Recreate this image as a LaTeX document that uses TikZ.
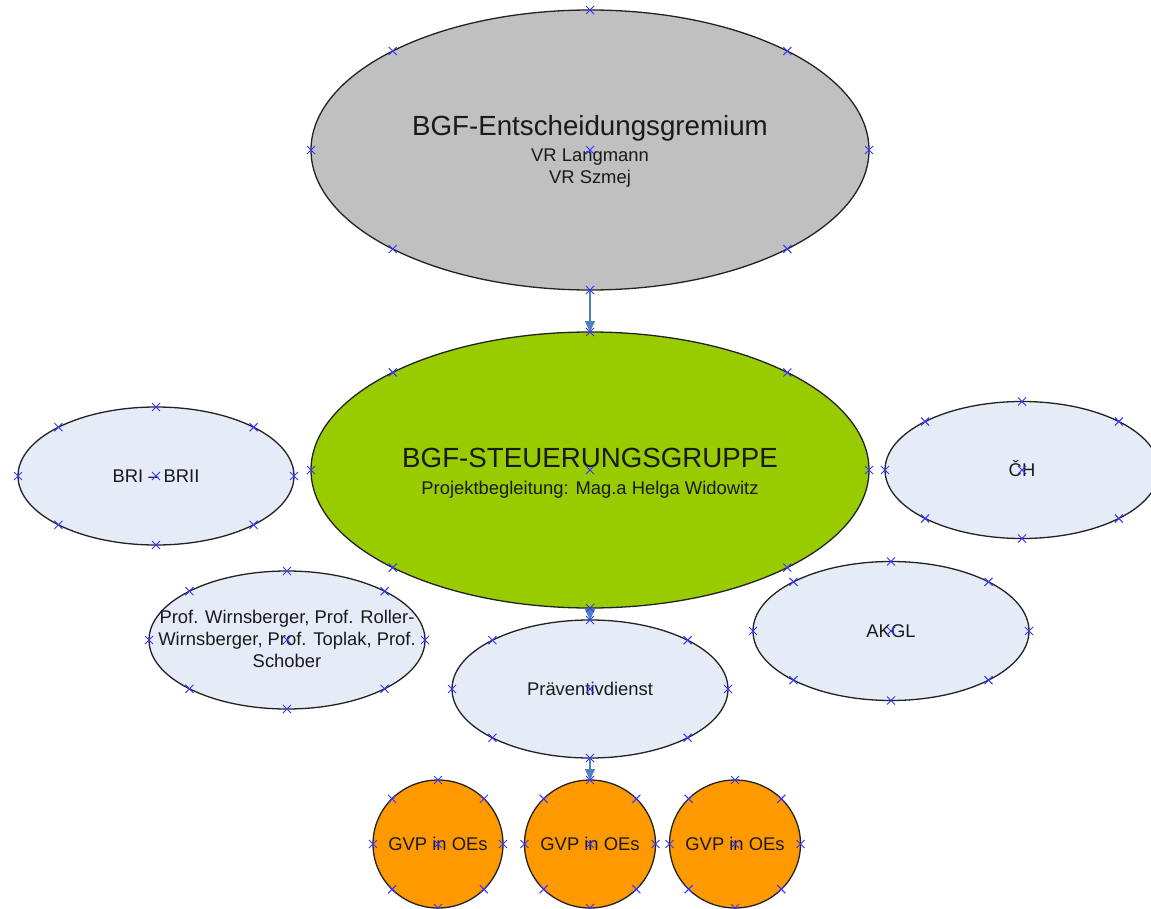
\documentclass[tikz,border=0pt]{standalone}
\usepackage{fontspec}
\setmainfont{Liberation Sans}
\usetikzlibrary{shapes.geometric,arrows.meta,calc}
\definecolor{grayfill}{HTML}{C0C0C0}
\definecolor{greenfill}{HTML}{99CC00}
\definecolor{bluefill}{HTML}{E6ECF7}
\definecolor{orangefill}{HTML}{FF9900}
\definecolor{outl}{HTML}{222222}
\definecolor{txt}{HTML}{1A1A1A}
\definecolor{markc}{HTML}{3333FF}
\definecolor{arrc}{HTML}{4F81BD}
\tikzset{
  shp/.style={ellipse, draw=outl, line width=1.3pt, inner sep=0pt, outer sep=0pt},
  bigtxt/.style={font=\fontsize{27.7}{33}\selectfont, text=txt, inner sep=0pt},
  smalltxt/.style={font=\fontsize{18.4}{22}\selectfont, text=txt, inner sep=0pt, align=center},
  conn/.style={draw=arrc, line width=1.3pt, -{Triangle[length=11pt,width=10pt]}},
  xm/.pic={\draw[markc,line width=1pt] (-4pt,-4pt)--(4pt,4pt) (-4pt,4pt)--(4pt,-4pt);}
}
\newcommand\ellmarks[3]{%
  \foreach \a in {0,45,...,315}{\pic at ($(#1.center)+({#2*cos(\a)},{#3*sin(\a)})$) {xm};}
  \pic at (#1.center) {xm};}
\begin{document}
\begin{tikzpicture}[x=1pt,y=-1pt]
\useasboundingbox (0,0) rectangle (1151,909);
\fill[white] (0,0) rectangle (1151,909);
\clip (0,0) rectangle (1151,909);

% shapes
\node[shp, fill=grayfill, minimum width=558pt, minimum height=280pt] (gremium) at (590,150) {};
\node[shp, fill=greenfill, minimum width=558pt, minimum height=276pt] (steuer) at (590,470) {};
\node[shp, fill=bluefill, minimum width=276pt, minimum height=138pt] (bri) at (156,476) {};
\node[shp, fill=bluefill, minimum width=274pt, minimum height=137pt] (oeh) at (1022,470) {};
\node[shp, fill=bluefill, minimum width=276pt, minimum height=138pt] (prof) at (287,640) {};
\node[shp, fill=bluefill, minimum width=276pt, minimum height=139pt] (akgl) at (891,631) {};
\node[shp, fill=bluefill, minimum width=276pt, minimum height=138pt] (prav) at (590,689) {};
\node[shp, fill=orangefill, minimum width=130pt, minimum height=128pt] (gvpa) at (438,844) {};
\node[shp, fill=orangefill, minimum width=131pt, minimum height=128pt] (gvpb) at (590,844) {};
\node[shp, fill=orangefill, minimum width=131pt, minimum height=128pt] (gvpc) at (735,844) {};

% texts
\node[bigtxt, anchor=base] (t1) at (590,136) {BGF-Entscheidungsgremium};
\node[smalltxt, anchor=base] (t2) at (590,162) {VR Langmann};
\node[smalltxt, anchor=base] (t3) at (590,184) {VR Szmej};
\node[bigtxt, anchor=base] (t4) at (590,467) {BGF-STEUERUNGSGRUPPE};
\node[smalltxt, anchor=base] (t5) at (590,494) {Projektbegleitung: Mag.a Helga Widowitz};
\node[smalltxt, anchor=base] (t6) at (156,482) {BRI – BRII};
\node[smalltxt, anchor=base] (t7) at (1022,476) {ČH};
\node[smalltxt, anchor=north] (t8) at (287,610) {Prof. Wirnsberger, Prof. Roller-\\Wirnsberger, Prof. Toplak, Prof.\\Schober};
\node[smalltxt, anchor=base] (t9) at (891,637) {AKGL};
\node[smalltxt, anchor=base] (t10) at (590,695) {Präventivdienst};
\node[smalltxt, anchor=base] (t11) at (438,850) {GVP in OEs};
\node[smalltxt, anchor=base] (t12) at (590,850) {GVP in OEs};
\node[smalltxt, anchor=base] (t13) at (735,850) {GVP in OEs};

% connectors
\draw[conn] (gremium.south) -- (steuer.north);
\draw[conn] (steuer.south) -- (prav.north);
\draw[conn] (prav.south) -- (gvpb.north);

% connection-point markers
\ellmarks{gremium}{279}{140}
\ellmarks{steuer}{279}{138}
\ellmarks{bri}{138}{69}
\ellmarks{oeh}{137}{68.5}
\ellmarks{prof}{138}{69}
\ellmarks{akgl}{138}{69.5}
\ellmarks{prav}{138}{69}
\ellmarks{gvpa}{65}{64}
\ellmarks{gvpb}{65.5}{64}
\ellmarks{gvpc}{65.5}{64}
\end{tikzpicture}
\end{document}
